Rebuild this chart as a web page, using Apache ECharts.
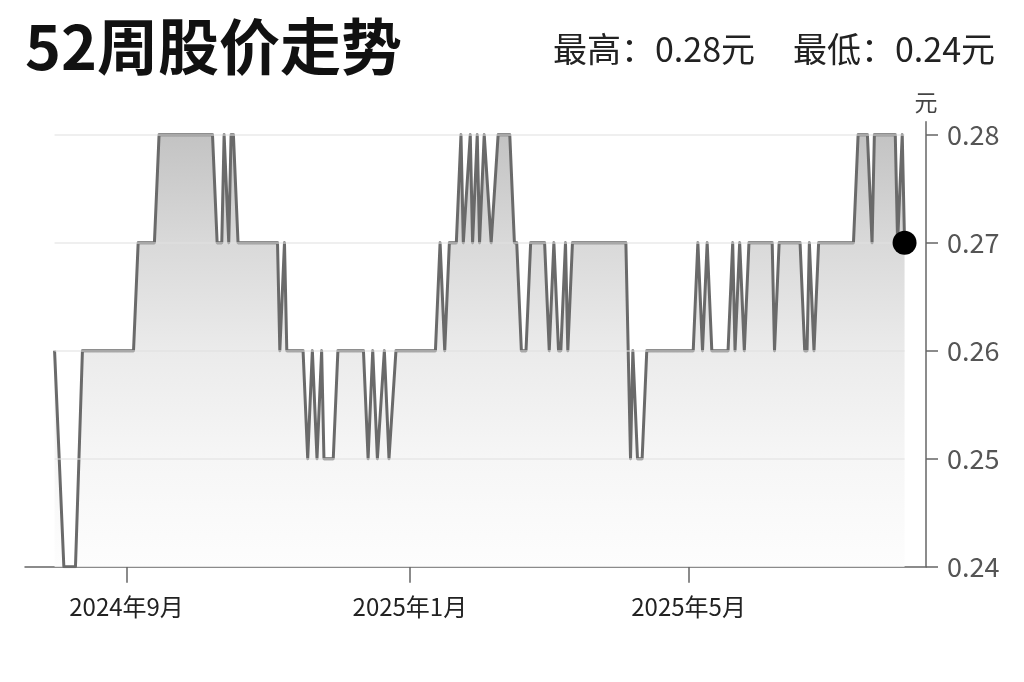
<!DOCTYPE html>
<html>
<head>
<meta charset="utf-8">
<script src="https://cdn.jsdelivr.net/npm/echarts@6/dist/echarts.min.js"></script>
<style>
html,body{margin:0;padding:0;background:#fff;}
#chart{width:1024px;height:682px;}
</style>
</head>
<body>
<div id="chart"></div>
<script>
// ---- data (vertices of the price line) ----
const dates = [
 '2024-08-01','2024-08-05','2024-08-10','2024-08-13','2024-09-04','2024-09-06','2024-09-13','2024-09-15',
 '2024-10-08','2024-10-10','2024-10-12','2024-10-13','2024-10-15','2024-10-16','2024-10-17','2024-10-19',
 '2024-11-05','2024-11-06','2024-11-08','2024-11-09','2024-11-16','2024-11-18','2024-11-20','2024-11-22',
 '2024-11-24','2024-11-25','2024-11-29','2024-12-01','2024-12-12','2024-12-14','2024-12-16','2024-12-18',
 '2024-12-21','2024-12-23','2024-12-26','2025-01-12','2025-01-14','2025-01-16','2025-01-18','2025-01-21',
 '2025-01-23','2025-01-24','2025-01-27','2025-01-28','2025-01-30','2025-01-31','2025-02-02','2025-02-05',
 '2025-02-08','2025-02-13','2025-02-15','2025-02-16','2025-02-18','2025-02-20','2025-02-22','2025-02-28',
 '2025-03-02','2025-03-04','2025-03-06','2025-03-07','2025-03-09','2025-03-10','2025-03-12','2025-04-04',
 '2025-04-06','2025-04-07','2025-04-09','2025-04-11','2025-04-13','2025-05-03','2025-05-05','2025-05-07',
 '2025-05-09','2025-05-11','2025-05-18','2025-05-20','2025-05-21','2025-05-23','2025-05-25','2025-05-27',
 '2025-06-06','2025-06-07','2025-06-09','2025-06-18','2025-06-20','2025-06-21','2025-06-22','2025-06-24',
 '2025-06-26','2025-07-11','2025-07-13','2025-07-17','2025-07-19','2025-07-20','2025-07-29','2025-07-30',
 '2025-08-01','2025-08-02'
];
const prices = [
 0.26,0.24,0.24,0.26,0.26,0.27,0.27,0.28,
 0.28,0.27,0.27,0.28,0.27,0.28,0.28,0.27,
 0.27,0.26,0.27,0.26,0.26,0.25,0.26,0.25,
 0.26,0.25,0.25,0.26,0.26,0.25,0.26,0.25,
 0.26,0.25,0.26,0.26,0.27,0.26,0.27,0.27,
 0.28,0.27,0.28,0.27,0.28,0.27,0.28,0.27,
 0.28,0.28,0.27,0.27,0.26,0.26,0.27,0.27,
 0.26,0.27,0.26,0.26,0.27,0.26,0.27,0.27,
 0.25,0.26,0.25,0.25,0.26,0.26,0.27,0.26,
 0.27,0.26,0.26,0.27,0.26,0.27,0.26,0.27,
 0.27,0.26,0.27,0.27,0.26,0.26,0.27,0.26,
 0.27,0.27,0.28,0.28,0.27,0.28,0.28,0.27,
 0.28,0.27
];
const yTicks = [0.24, 0.25, 0.26, 0.27, 0.28];
const gridValues = [0.25, 0.26, 0.27, 0.28];
const xTickDates = ['2024-09-01', '2025-01-01', '2025-05-01'];
const xTickLabels = ['2024年9月', '2025年1月', '2025年5月'];
const titleText = '52周股价走势';
const unitText = '元';

// ---- helpers ----
const FONT = '"Noto Sans CJK SC", "Noto Sans", sans-serif';
const DAY = 86400000;
function ts(s) { const p = s.split('-').map(Number); return new Date(p[0], p[1] - 1, p[2]).getTime(); }
const seriesData = dates.map((d, i) => [ts(d), prices[i]]);
const xTickTs = xTickDates.map(ts);
const high = Math.max(...prices);
const low = Math.min(...prices);
const start = ts(dates[0]);
const last = seriesData[seriesData.length - 1];

const chart = echarts.init(document.getElementById('chart'), null, { renderer: 'canvas' });
const option = {
  animation: false,
  backgroundColor: '#ffffff',
  title: {
    text: titleText, left: 25, top: 16, padding: 0,
    textStyle: { fontSize: 61, fontWeight: 'bold', color: '#111', fontFamily: FONT }
  },
  graphic: [
    { type: 'text', left: 553, top: 32, style: { text: '最高：' + high.toFixed(2) + unitText, font: '34px ' + FONT, fill: '#222' } },
    { type: 'text', left: 793, top: 32, style: { text: '最低：' + low.toFixed(2) + unitText, font: '34px ' + FONT, fill: '#222' } }
  ],
  grid: { left: 25, right: 98, top: 121.7, bottom: 115.3 },
  xAxis: {
    type: 'value',
    min: start - 12.73 * DAY,
    max: start + 375.23 * DAY,
    axisLine: { show: true, lineStyle: { color: '#666', width: 1.5 } },
    axisTick: { show: true, length: 16, customValues: xTickTs, lineStyle: { color: '#666', width: 1.5 } },
    axisLabel: {
      customValues: xTickTs,
      formatter: function (v) { const i = xTickTs.indexOf(v); return i >= 0 ? xTickLabels[i] : ''; },
      fontSize: 24, color: '#222', margin: 28, fontFamily: FONT
    },
    splitLine: { show: false }
  },
  yAxis: {
    type: 'value', position: 'right',
    min: 0.24, max: 0.2812, interval: 0.01,
    name: unitText, nameLocation: 'end', nameGap: 8,
    nameTextStyle: { fontSize: 23, color: '#444', fontFamily: FONT, align: 'center' },
    axisLine: { show: true, lineStyle: { color: '#666', width: 1.5 } },
    axisTick: { show: true, length: 12, customValues: yTicks, lineStyle: { color: '#666', width: 1.5 } },
    axisLabel: {
      customValues: yTicks,
      formatter: function (v) { return Number(v).toFixed(2); },
      fontSize: 27, color: '#555', margin: 21, fontFamily: FONT
    },
    splitLine: { show: false }
  },
  series: [
    {
      type: 'line',
      data: seriesData,
      showSymbol: false,
      symbol: 'none',
      lineStyle: { color: '#6a6a6a', width: 3, join: 'round' },
      areaStyle: {
        opacity: 1,
        color: new echarts.graphic.LinearGradient(0, 0, 0, 1, [
          { offset: 0, color: '#c3c3c3' },
          { offset: 0.25, color: '#d9d9d9' },
          { offset: 0.5, color: '#ebebeb' },
          { offset: 0.75, color: '#f6f6f6' },
          { offset: 1, color: '#fdfdfd' }
        ])
      },
      markLine: {
        silent: true, symbol: 'none', animation: false,
        label: { show: false },
        lineStyle: { color: 'rgba(225,225,225,0.7)', width: 1.5, type: 'solid' },
        emphasis: { disabled: true },
        data: gridValues.map(v => [{ coord: [seriesData[0][0], v] }, { coord: [last[0], v] }])
      },
      z: 2
    },
    {
      type: 'scatter',
      data: [last],
      symbol: 'circle',
      symbolSize: 24,
      itemStyle: { color: '#000', opacity: 1 },
      z: 5
    }
  ]
};
chart.setOption(option);
</script>
</body>
</html>
